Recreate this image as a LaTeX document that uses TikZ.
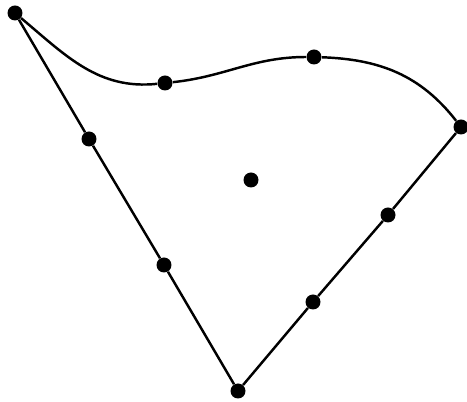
\documentclass[tikz,border=0pt]{standalone}
\usetikzlibrary{positioning}

\begin{document}
\begin{tikzpicture}[
    x=0.02cm, y=0.02cm,
    dot/.style={circle, fill=black, inner sep=0pt, minimum size=0.3cm},
    edge/.style={draw, line width=1.4pt, color=black}
]
\useasboundingbox (0,0) rectangle (467,402);
\node [dot] (corner) at (15,389) {};
\node [dot] (topa) at (165,319) {};
\node [dot] (topb) at (314,345) {};
\node [dot] (right) at (461,275) {};
\node [dot] (bottom) at (238,11) {};
\node [dot] (lefta) at (89,263) {};
\node [dot] (leftb) at (164,137) {};
\node [dot] (righta) at (388,187) {};
\node [dot] (rightb) at (313,100) {};
\node [dot] (centre) at (251,222) {};
\path [edge] (corner) to[out=-40, in=186] (topa) to[out=6, in=180] (topb) to[out=-2, in=128] (right);
\path [edge] (corner) -- (lefta) -- (leftb) -- (bottom);
\path [edge] (bottom) -- (rightb) -- (righta) -- (right);
\end{tikzpicture}
\end{document}
